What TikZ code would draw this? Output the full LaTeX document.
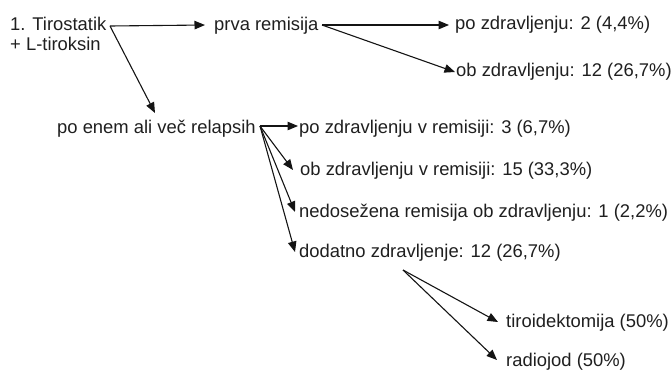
\documentclass[tikz,border=0pt]{standalone}
\usepackage{fontspec}
\setmainfont{Liberation Sans}
\usetikzlibrary{arrows.meta}
\begin{document}
\begin{tikzpicture}[x=1bp,y=-1bp,
  lbl/.style={anchor=base west,inner sep=0pt,font=\fontsize{18.4bp}{20bp}\selectfont,text=black!88},
  arr/.style={draw=black!92,line width=1.1bp,-{Triangle[length=10.5bp,width=8.5bp]}}]
\useasboundingbox (0,0) rectangle (671,370);
% text labels (base of a two-line node is its last line)
\node[lbl,align=left] (t) at (10,50) {1. Tirostatik\\+ L-tiroksin};
\node[lbl] (pr) at (214,30) {prva remisija};
\node[lbl] (pz) at (455,29) {po zdravljenju: 2 (4,4\%)};
\node[lbl] (oz) at (456,76) {ob zdravljenju: 12 (26,7\%)};
\node[lbl] (rel) at (57,133) {po enem ali več relapsih};
\node[lbl] (r1) at (299,133) {po zdravljenju v remisiji: 3 (6,7\%)};
\node[lbl] (r2) at (300,175) {ob zdravljenju v remisiji: 15 (33,3\%)};
\node[lbl] (r3) at (299,217) {nedosežena remisija ob zdravljenju: 1 (2,2\%)};
\node[lbl] (r4) at (299,257) {dodatno zdravljenje: 12 (26,7\%)};
\node[lbl] (ti) at (506,327) {tiroidektomija (50\%)};
\node[lbl] (ra) at (506,366) {radiojod (50\%)};
% fork points and arrow tips
\coordinate (tF) at (110,26);
\coordinate (prF) at (322,25);
\coordinate (relF) at (260,126);
\coordinate (r4F) at (403,270);
\coordinate (tRel) at (155,113);
\draw[arr] (tF) -- (205,25) coordinate (tPr);
\draw[arr] (tF) -- (tRel);
\draw[arr] (prF) -- (449,25) coordinate (tPz);
\draw[arr] (prF) -- (455,72) coordinate (tOz);
\draw[arr] (relF) -- (298,126) coordinate (t1);
\draw[arr] (relF) -- (293,170) coordinate (t2);
\draw[arr] (relF) -- (295,212) coordinate (t3);
\draw[arr] (relF) -- (295,252) coordinate (t4);
\draw[arr] (r4F) -- (498,322) coordinate (t5);
\draw[arr] (r4F) -- (497,360) coordinate (t6);
\end{tikzpicture}
\end{document}
